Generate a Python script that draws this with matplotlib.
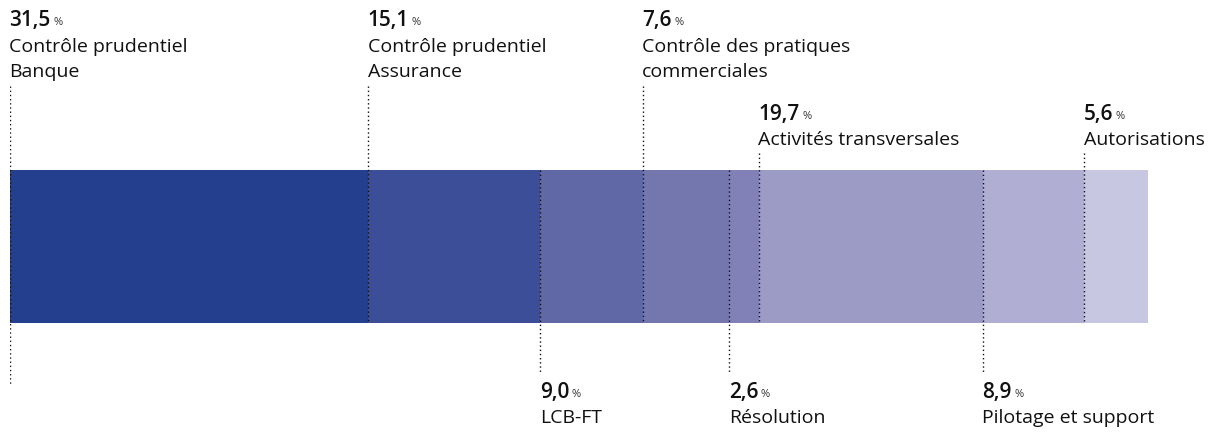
import numpy as np
import matplotlib
matplotlib.use("Agg")
from matplotlib import pyplot as plt

plt.rcParams['font.family'] = ['Open Sans', 'DejaVu Sans']

values = [31.5, 15.1, 9.0, 7.6, 2.6, 19.7, 8.9, 5.6]
labels = ["Contrôle prudentiel\nBanque", "Contrôle prudentiel\nAssurance", "LCB-FT",
          "Contrôle des pratiques\ncommerciales", "Résolution", "Activités transversales",
          "Pilotage et support", "Autorisations"]
value_text = ["31,5", "15,1", "9,0", "7,6", "2,6", "19,7", "8,9", "5,6"]
colors = ["#233F8D", "#3B4E97", "#6068A6", "#7477AE", "#8281B7", "#9C9BC5", "#B0AFD3", "#C8C7E1"]
# where each label sits: 'top' high, 'mid' just above the bar, 'bottom' below
place = ["top", "top", "bottom", "top", "bottom", "mid", "bottom", "mid"]

lefts = np.concatenate([[0], np.cumsum(values)[:-1]])

fig = plt.figure(figsize=(12.21, 4.32), dpi=100)
ax = fig.add_axes([10 / 1221, 0, 1138 / 1221, 1])
ax.set_xlim(0, 100)
ax.set_ylim(432, 0)
ax.axis('off')

# bar spans y 170..323 in pixel-like units
ax.barh(246.5, values, left=lefts, height=153, color=colors, linewidth=0)

for i in range(len(values)):
    x = lefts[i]
    if place[i] == "top":
        y0, y1 = 86, 323
        num_y = 26
        gap = 26.5
    elif place[i] == "mid":
        y0, y1 = 153, 323
        num_y = 120
        gap = 25
    else:
        y0, y1 = 170, 372
        num_y = 398
        gap = 25
    if i == 0:
        y1 = 384
    ax.plot([x, x], [y0, y1], color='#111111', linestyle=(0, (1, 2)), linewidth=1)

    t = ax.text(x - 0.05, num_y, value_text[i], fontsize=15, fontweight='semibold',
                color='#111111', va='baseline', ha='left')
    ax.annotate('%', xy=(1, 0), xycoords=t, xytext=(2, 2.5), textcoords='offset points',
                fontsize=8, color='#333333', va='bottom', ha='left')
    for k, line in enumerate(labels[i].split("\n")):
        ax.text(x - 0.05, num_y + gap + k * 24.5, line, fontsize=14, color='#111111',
                va='baseline', ha='left')

fig.savefig("out.png", dpi=100)
